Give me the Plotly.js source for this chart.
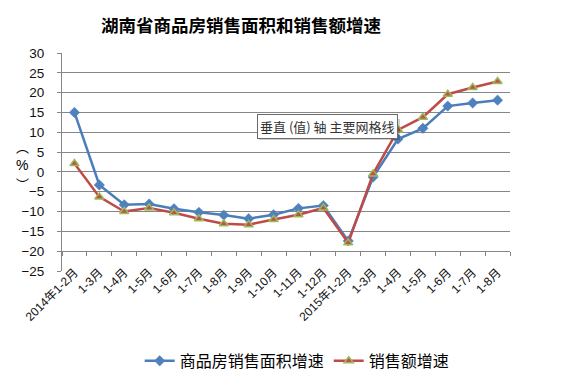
<!DOCTYPE html>
<html>
<head>
<meta charset="utf-8">
<script src="https://cdn.plot.ly/plotly-3.0.1.min.js"></script>
<style>html,body{margin:0;padding:0;background:#fff;}#chart{width:566px;height:373px;}</style>
</head>
<body>
<div id="chart"></div>
<script>
const categories = ['2014年1-2月','1-3月','1-4月','1-5月','1-6月','1-7月','1-8月','1-9月','1-10月','1-11月','1-12月','2015年1-2月','1-3月','1-4月','1-5月','1-6月','1-7月','1-8月'];
const areaGrowth = [15.0,-3.3,-8.3,-8.1,-9.3,-10.2,-10.9,-11.8,-10.8,-9.2,-8.5,-17.4,-1.3,8.3,11.0,16.6,17.4,18.1];
const salesGrowth = [2.1,-6.3,-10.0,-9.1,-10.3,-11.8,-13.1,-13.3,-12.0,-10.8,-9.1,-17.9,-0.5,10.6,13.8,19.6,21.3,22.8];
const yTicks = [-25,-20,-15,-10,-5,0,5,10,15,20,25,30];
const seriesNames = ['商品房销售面积增速','销售额增速'];

const idx = categories.map((_, i) => i);
const bounds = [-0.5].concat(idx.map(i => i + 0.5));

const traces = [
  {x: idx, y: areaGrowth, name: seriesNames[0], type: 'scatter', mode: 'lines+markers',
   line: {color: '#4A7EBB', width: 2.5}, marker: {symbol: 'diamond', size: 8, color: '#4F81BD', line: {color: '#4A7EBB', width: 0.5}}},
  {x: idx, y: salesGrowth, name: seriesNames[1], type: 'scatter', mode: 'lines+markers',
   line: {color: '#BE4B48', width: 2.5}, marker: {symbol: 'triangle-up', size: 8, color: '#C0504D', line: {color: '#9BBB59', width: 1.5}}},
  {x: bounds, y: bounds.map(() => null), xaxis: 'x2', type: 'scatter', mode: 'lines', showlegend: false, hoverinfo: 'skip'}
];

const layout = {
  width: 566, height: 373,
  margin: {l: 62, r: 56, t: 53, b: 102, autoexpand: false},
  paper_bgcolor: '#fff', plot_bgcolor: '#fff',
  font: {family: 'Liberation Sans, Arial, "Noto Sans CJK SC", sans-serif', color: '#111'},
  title: {text: '<b>湖南省商品房销售面积和销售额增速</b>', x: 0.426, xanchor: 'center', y: 0.93, yanchor: 'middle',
          font: {family: '"Noto Sans CJK SC", sans-serif', size: 17.5, color: '#000'}},
  showlegend: true,
  legend: {orientation: 'h', x: 0.525, xanchor: 'center', yref: 'container', y: 0.078, yanchor: 'top', itemwidth: 30,
           font: {family: '"Noto Sans CJK SC", sans-serif', size: 16, color: '#000'}, bgcolor: 'rgba(0,0,0,0)'},
  xaxis: {range: [-0.5, 17.5], tickmode: 'array', tickvals: idx, ticktext: categories, tickangle: -45,
          showgrid: false, zeroline: false, showline: false, ticks: '', anchor: 'free', position: 0.04,
          tickfont: {size: 12, color: '#111', family: 'Liberation Sans, Arial, "Noto Sans CJK SC", sans-serif'}, fixedrange: true},
  xaxis2: {overlaying: 'x', range: [-0.5, 17.5], tickmode: 'array', tickvals: bounds, showticklabels: false,
           ticks: 'outside', ticklen: 4, tickcolor: '#868686', tickwidth: 1, showline: true, linecolor: '#868686', linewidth: 1,
           showgrid: false, zeroline: false, anchor: 'free', position: 5 / 55, side: 'bottom'},
  yaxis: {range: [-25, 30], tickmode: 'array', tickvals: yTicks, showgrid: true, gridcolor: '#868686', gridwidth: 1,
          zeroline: false, showline: true, linecolor: '#868686', linewidth: 1, ticks: 'outside', ticklen: 4, tickcolor: '#868686',
          ticklabelstandoff: 10, tickfont: {size: 13.5, color: '#111'}, fixedrange: true},
  annotations: [
    {text: '︵', xref: 'paper', yref: 'paper', x: -0.107, y: (271 - 146) / 218, showarrow: false, font: {size: 13, family: '"Noto Sans CJK SC"', color: '#000'}},
    {text: '%', xref: 'paper', yref: 'paper', x: -0.107, y: (271 - 165) / 218, showarrow: false, font: {size: 14, color: '#000'}},
    {text: '︶', xref: 'paper', yref: 'paper', x: -0.107, y: (271 - 183) / 218, showarrow: false, font: {size: 13, family: '"Noto Sans CJK SC"', color: '#000'}},
    {text: '垂直 (值) 轴 主要网格线', xref: 'paper', yref: 'paper', x: (327 - 62) / 448, y: (271 - 126.5) / 218, showarrow: false,
     font: {size: 13, family: '"Noto Sans CJK SC", sans-serif', color: '#333'}, bgcolor: '#fff', bordercolor: '#6b6b6b', borderwidth: 1, borderpad: 2}
  ],
  shapes: [
    {type: 'rect', xref: 'paper', yref: 'paper', x0: (259 - 62) / 448, x1: (400 - 62) / 448, y0: (271 - 140) / 218, y1: (271 - 119) / 218,
     fillcolor: 'rgba(0,0,0,0.18)', line: {width: 0}, layer: 'above'}
  ]
};

Plotly.newPlot('chart', traces, layout, {displayModeBar: false, staticPlot: true});
</script>
</body>
</html>
